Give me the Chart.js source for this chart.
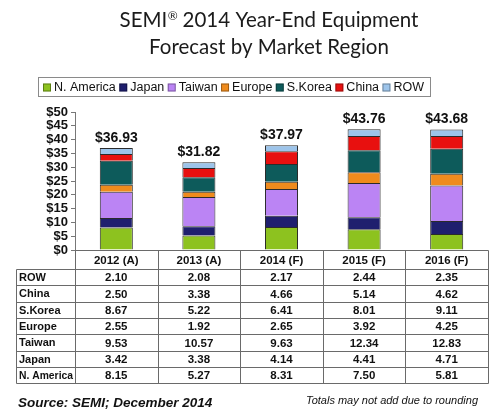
<!DOCTYPE html>
<html>
<head>
<meta charset="utf-8">
<script src="https://cdn.jsdelivr.net/npm/chart.js@4.4.0/dist/chart.umd.min.js"></script>
<style>
  html, body { margin: 0; padding: 0; background: #fff; }
</style>
</head>
<body>
<canvas id="regions" width="498" height="417"></canvas>
<script>
// values in $ billions
const years = ['2012 (A)', '2013 (A)', '2014 (F)', '2015 (F)', '2016 (F)'];
const nAmerica = [8.15, 5.27, 8.31, 7.50, 5.81];
const japan = [3.42, 3.38, 4.14, 4.41, 4.71];
const taiwan = [9.53, 10.57, 9.63, 12.34, 12.83];
const europe = [2.55, 1.92, 2.65, 3.92, 4.25];
const sKorea = [8.67, 5.22, 6.41, 8.01, 9.11];
const china = [2.50, 3.38, 4.66, 5.14, 4.62];
const rowOther = [2.10, 2.08, 2.17, 2.44, 2.35];
const totals = [36.93, 31.82, 37.97, 43.76, 43.68];
const titleLines = ['SEMI\u00AE 2014 Year-End Equipment', 'Forecast by Market Region'];
const sourceNote = 'Source: SEMI; December 2014';
const roundingNote = 'Totals may not add due to rounding';

const ARIAL = '"Liberation Sans", Arial, sans-serif';
const TITLE_FONT = 'Lato, "Open Sans", sans-serif';

function series(label, data, color) {
    return { label: label, data: data, backgroundColor: color, borderColor: '#2b2b2b', borderWidth: 1 };
}

// title + boxed legend across the top
const headerPlugin = {
    id: 'header',
    afterDraw(chart) {
        const ctx = chart.ctx;
        const cx = 269;
        ctx.save();
        ctx.fillStyle = '#1b1b1b';
        ctx.textBaseline = 'alphabetic';

        // first line has a raised, smaller (R) mark
        const parts = titleLines[0].split('\u00AE');
        const big = '20.5px ' + TITLE_FONT, small = '12px ' + TITLE_FONT;
        ctx.font = big;
        const w0 = ctx.measureText(parts[0]).width, w2 = ctx.measureText(parts[1]).width;
        ctx.font = small;
        const w1 = ctx.measureText('\u00AE').width;
        let x = cx - (w0 + w1 + w2) / 2;
        ctx.textAlign = 'left';
        ctx.font = big;
        ctx.fillText(parts[0], x, 27);
        ctx.font = small;
        ctx.fillText('\u00AE', x + w0 + 0.5, 20);
        ctx.font = big;
        ctx.fillText(parts[1], x + w0 + w1, 27);
        ctx.textAlign = 'center';
        ctx.fillText(titleLines[1], cx, 54);

        const box = { left: 38, right: 430, top: 77, bottom: 96 };
        ctx.strokeStyle = '#8a8a8a';
        ctx.lineWidth = 1;
        ctx.strokeRect(box.left + 0.5, box.top + 0.5, box.right - box.left, box.bottom - box.top);

        ctx.font = '12.5px ' + ARIAL;
        ctx.textAlign = 'left';
        ctx.textBaseline = 'middle';
        const sets = chart.data.datasets;
        const sw = 8, swGap = 3;
        const widths = sets.map(d => ctx.measureText(d.label).width);
        const used = widths.reduce((a, b) => a + b, 0) + sets.length * (sw + swGap);
        const x0 = box.left + 5, x1 = box.right - 6;
        const gap = (x1 - x0 - used) / (sets.length - 1);
        const cy = (box.top + box.bottom) / 2 + 1;
        x = x0;
        sets.forEach((d, i) => {
            ctx.fillStyle = d.backgroundColor;
            ctx.fillRect(x, cy - sw / 2, sw, sw);
            ctx.strokeStyle = 'rgba(0,0,0,0.35)';
            ctx.strokeRect(x + 0.5, cy - sw / 2 + 0.5, sw - 1, sw - 1);
            ctx.fillStyle = '#111';
            ctx.fillText(d.label, x + sw + swGap, cy);
            x += sw + swGap + widths[i] + gap;
        });
        ctx.restore();
    }
};

// "$36.93" etc. above each stack
const totalsPlugin = {
    id: 'totals',
    afterDatasetsDraw(chart) {
        const ctx = chart.ctx;
        const last = chart.getDatasetMeta(chart.data.datasets.length - 1);
        ctx.save();
        ctx.font = 'bold 14px ' + ARIAL;
        ctx.fillStyle = '#111';
        ctx.textAlign = 'center';
        ctx.textBaseline = 'middle';
        last.data.forEach((bar, i) => {
            ctx.fillText('$' + totals[i].toFixed(2), bar.x, bar.y - 10);
        });
        ctx.restore();
    }
};

// data table under the plot, columns follow the x scale
const tablePlugin = {
    id: 'table',
    afterDraw(chart) {
        const ctx = chart.ctx;
        const area = chart.chartArea;
        const xs = chart.scales.x;
        const sets = chart.data.datasets.slice().reverse();
        const edges = [area.left];
        for (let i = 0; i < years.length - 1; i++) {
            edges.push((xs.getPixelForValue(i) + xs.getPixelForValue(i + 1)) / 2);
        }
        edges.push(area.right);
        const top = area.bottom;
        const headH = 19;
        const rowH = 16.3;
        const labelLeft = 16;
        const bottom = top + headH + rowH * sets.length;
        const px = v => Math.round(v) + 0.5;

        ctx.save();
        ctx.strokeStyle = '#6a6a6a';
        ctx.lineWidth = 1;
        ctx.beginPath();
        ctx.moveTo(px(area.left), px(top));
        ctx.lineTo(px(area.right), px(top));
        edges.forEach(e => {
            ctx.moveTo(px(e), px(top));
            ctx.lineTo(px(e), px(bottom));
        });
        ctx.moveTo(px(labelLeft), px(top + headH));
        ctx.lineTo(px(labelLeft), px(bottom));
        for (let r = 0; r <= sets.length; r++) {
            const y = px(top + headH + r * rowH);
            ctx.moveTo(px(labelLeft), y);
            ctx.lineTo(px(area.right), y);
        }
        ctx.stroke();

        ctx.fillStyle = '#111';
        ctx.textBaseline = 'middle';
        ctx.font = 'bold 11.5px ' + ARIAL;
        ctx.textAlign = 'center';
        years.forEach((y, i) => {
            ctx.fillText(y, (edges[i] + edges[i + 1]) / 2, top + headH / 2 + 1);
        });
        sets.forEach((d, r) => {
            const cy = top + headH + r * rowH + rowH / 2 + 1;
            ctx.textAlign = 'left';
            ctx.font = 'bold 11px ' + ARIAL;
            ctx.fillText(d.label, labelLeft + 3, cy, area.left - labelLeft - 5);
            ctx.textAlign = 'center';
            ctx.font = 'bold 11.5px ' + ARIAL;
            d.data.forEach((v, i) => {
                ctx.fillText(v.toFixed(2), (edges[i] + edges[i + 1]) / 2, cy);
            });
        });

        ctx.textBaseline = 'alphabetic';
        ctx.textAlign = 'left';
        ctx.font = 'bold italic 13.5px ' + ARIAL;
        ctx.fillText(sourceNote, 18, 407);
        ctx.textAlign = 'right';
        ctx.font = 'italic 11px ' + ARIAL;
        ctx.fillText(roundingNote, 478, 404);
        ctx.restore();
    }
};

new Chart(document.getElementById('regions').getContext('2d'), {
    type: 'bar',
    data: {
        labels: years,
        datasets: [
            series('N. America', nAmerica, '#8dc21f'),
            series('Japan', japan, '#1f1f6e'),
            series('Taiwan', taiwan, '#bb84f4'),
            series('Europe', europe, '#ef8b1d'),
            series('S.Korea', sKorea, '#0d5b5b'),
            series('China', china, '#e8100f'),
            series('ROW', rowOther, '#9dc4ea')
        ]
    },
    options: {
        responsive: false,
        animation: false,
        devicePixelRatio: 1,
        layout: { padding: { top: 112, left: 0, right: 10, bottom: 167 } },
        datasets: { bar: { barPercentage: 0.4, categoryPercentage: 1 } },
        scales: {
            x: { stacked: true, display: false },
            y: {
                stacked: true,
                min: 0,
                max: 50,
                ticks: {
                    stepSize: 5,
                    autoSkip: false,
                    padding: 3,
                    color: '#111',
                    font: { family: ARIAL, size: 13, weight: 'bold' },
                    callback: v => '$' + v
                },
                grid: { drawOnChartArea: false, tickLength: 4, color: '#777' },
                border: { color: '#777' },
                afterFit(scale) {
                    scale.width = 75;
                    scale.paddingTop = 0;
                    scale.paddingBottom = 0;
                }
            }
        },
        plugins: {
            legend: { display: false },
            title: { display: false },
            tooltip: { enabled: false }
        }
    },
    plugins: [headerPlugin, totalsPlugin, tablePlugin]
});
</script>
</body>
</html>
